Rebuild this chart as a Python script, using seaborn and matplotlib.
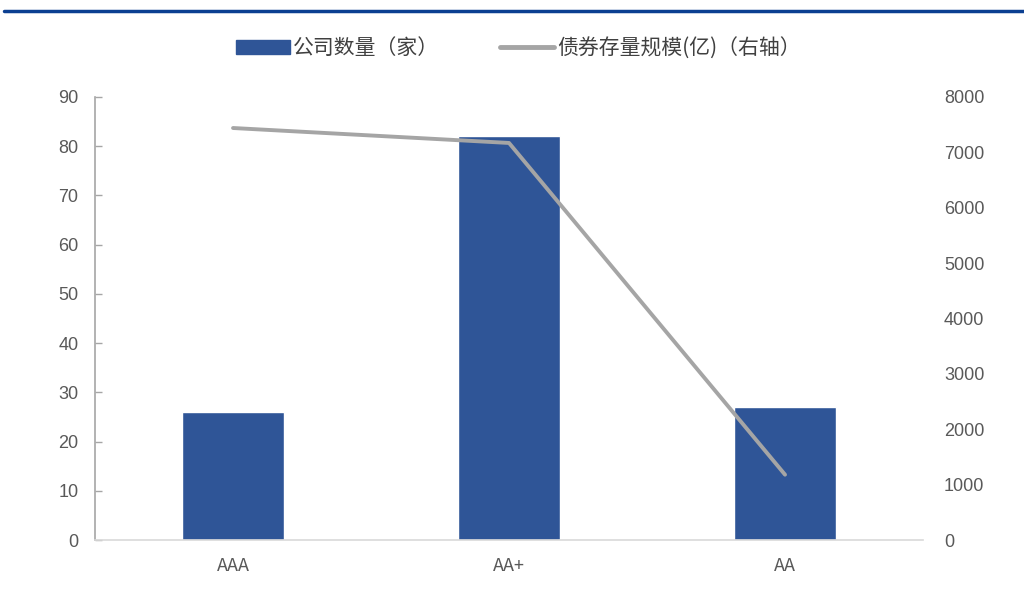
import matplotlib
matplotlib.use("Agg")
import matplotlib.pyplot as plt
import seaborn as sns
import pandas as pd
from matplotlib.lines import Line2D
from matplotlib.patches import Patch

categories = ["AAA", "AA+", "AA"]
company_counts = [26, 82, 27]
bond_scale = [7440, 7170, 1180]
left_ticks = [0, 10, 20, 30, 40, 50, 60, 70, 80, 90]
right_ticks = [0, 1000, 2000, 3000, 4000, 5000, 6000, 7000, 8000]
bar_label = "公司数量（家）"
line_label = "债券存量规模(亿)（右轴）"

sns.set_theme(style="white")
plt.rcParams['font.family'] = ['Liberation Sans', 'Noto Sans CJK SC', 'DejaVu Sans']

df = pd.DataFrame({"cat": categories, "count": company_counts, "scale": bond_scale})

fig = plt.figure(figsize=(10.24, 5.9), dpi=100)
ax = fig.add_axes([0.0928, 0.0847, 0.8086, 0.7509])

sns.barplot(data=df, x="cat", y="count", color="#2F5597", saturation=1, width=0.37, ax=ax)
ax.set_xlim(-0.5, 2.5)
ax.set_ylim(0, 90)
ax.set_yticks(left_ticks)
ax.set_xlabel("")
ax.set_ylabel("")
for s in ["top", "right"]:
    ax.spines[s].set_visible(False)
ax.spines["left"].set_color("#A6A6A6")
ax.spines["left"].set_linewidth(1.2)
ax.spines["bottom"].set_color("#D9D9D9")
ax.spines["bottom"].set_linewidth(1.2)
ax.tick_params(axis="y", direction="in", length=5, color="#A6A6A6", width=1, labelsize=13, labelcolor="#595959", pad=12)
ax.tick_params(axis="x", length=0, labelsize=13, labelcolor="#595959", pad=12)
for lbl in ax.get_xticklabels():
    lbl.set_fontfamily(["Noto Sans CJK SC", "DejaVu Sans"])
    lbl.set_fontstretch("condensed")

ax2 = ax.twinx()
sns.lineplot(data=df, x="cat", y="scale", color="#A5A5A5", linewidth=2.8, ax=ax2, sort=False)
ax2.set_ylim(0, 8000)
ax2.set_yticks(right_ticks)
ax2.set_ylabel("")
ax2.set_xlabel("")
for s in ["top", "right", "left", "bottom"]:
    ax2.spines[s].set_visible(False)
ax2.tick_params(axis="y", length=0, labelsize=13, labelcolor="#595959", pad=15)
ax.set_xlim(-0.5, 2.5)

# top rule
fig.add_artist(Line2D([0.004, 1.0], [0.981, 0.981], color="#0B3F91", linewidth=2.5))

handles = [Patch(color="#2F5597", label=bar_label),
           Line2D([0], [0], color="#A5A5A5", linewidth=3.5, label=line_label)]
leg = fig.legend(handles=handles, loc="center", bbox_to_anchor=(0.506, 0.918), ncol=2, frameon=False,
                 prop={"family": ["Noto Sans CJK SC", "DejaVu Sans"], "size": 15},
                 handlelength=2.6, handleheight=0.7, columnspacing=2.9, handletextpad=0.15)
for t in leg.get_texts():
    t.set_color("#404040")

fig.savefig("out.png", dpi=100)
